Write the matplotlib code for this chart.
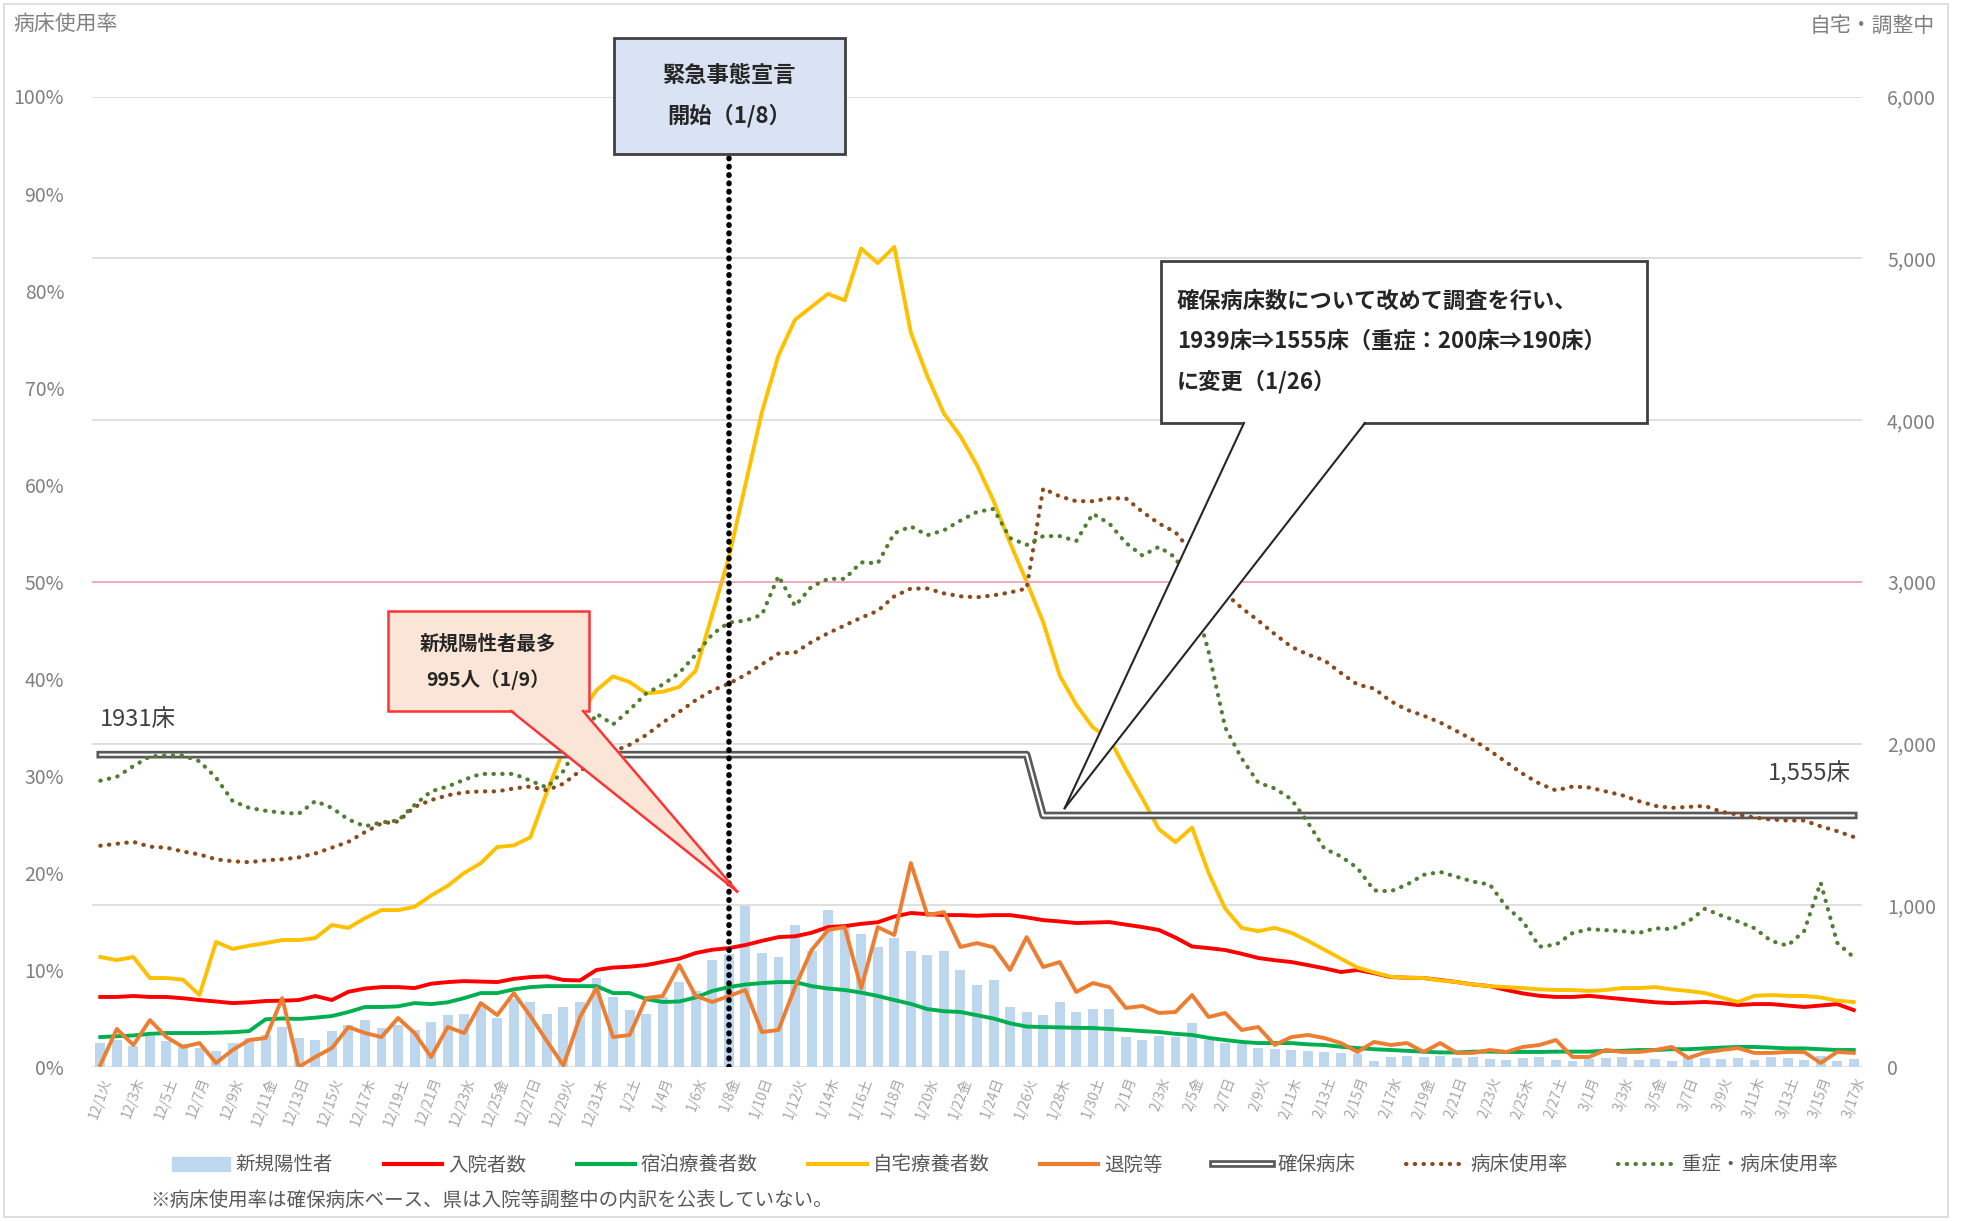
import matplotlib
matplotlib.use('Agg')
import matplotlib.pyplot as plt
import matplotlib.patches as patches
import matplotlib.patheffects as pe
from matplotlib.lines import Line2D
from matplotlib.ticker import FuncFormatter, MultipleLocator
import pandas as pd

plt.rcParams['font.family'] = ['Noto Sans CJK JP', 'DejaVu Sans']

# ---------------- data ----------------
dates = pd.date_range('2020-12-01', '2021-03-17')
weekdays = '月火水木金土日'
day_labels = [f'{d.month}/{d.day}{weekdays[d.weekday()]}' for d in dates]

# 新規陽性者
new_pos = [150, 170, 130, 190, 160, 140, 120, 100, 150, 180,
           200, 250, 180, 170, 220, 260, 290, 240, 260, 230,
           280, 320, 330, 380, 300, 420, 400, 330, 370, 400,
           550, 430, 350, 330, 430, 525, 470, 660, 700, 995,
           705, 680, 880, 720, 970, 880, 820, 740, 800, 720,
           690, 720, 600, 510, 540, 370, 340, 320, 400, 340,
           360, 360, 185, 170, 190, 185, 270, 170, 150, 140,
           120, 110, 105, 100, 90, 85, 80, 40, 60, 70,
           60, 65, 55, 60, 50, 45, 55, 60, 45, 40,
           50, 55, 60, 45, 50, 40, 60, 55, 50, 55,
           45, 60, 55, 45, 65, 40, 50]
# 入院者数
hospitalized = [433, 433, 439, 433, 433, 425, 414, 405, 395, 400,
                408, 410, 414, 439, 414, 465, 485, 494, 494, 488,
                515, 525, 531, 528, 525, 545, 556, 560, 538, 535,
                600, 615, 620, 630, 650, 670, 705, 725, 735, 754,
                780, 803, 808, 830, 865, 871, 885, 895, 930, 952,
                945, 939, 939, 935, 939, 939, 925, 908, 900, 890,
                893, 896, 880, 865, 847, 800, 745, 735, 723, 700,
                674, 660, 649, 630, 610, 587, 600, 580, 556, 552,
                550, 538, 525, 510, 500, 476, 455, 440, 433, 433,
                440, 430, 420, 410, 400, 395, 398, 402, 395, 383,
                389, 389, 380, 371, 380, 389, 352]
# 宿泊療養者数
hotel = [185, 190, 195, 205, 210, 210, 210, 212, 215, 222,
         295, 300, 297, 305, 315, 340, 371, 371, 375, 395,
         389, 400, 426, 457, 457, 480, 494, 500, 500, 500,
         500, 457, 457, 420, 402, 405, 430, 470, 494, 510,
         519, 525, 525, 500, 485, 476, 460, 439, 414, 390,
         358, 345, 340, 320, 300, 270, 250, 247, 245, 242,
         241, 235, 229, 222, 216, 205, 198, 180, 167, 155,
         148, 148, 148, 140, 136, 125, 117, 110, 105, 100,
         95, 90, 90, 95, 95, 93, 93, 93, 95, 95,
         95, 100, 100, 105, 105, 110, 110, 115, 120, 124,
         124, 120, 115, 115, 110, 105, 105]
# 自宅療養者数
home = [680, 661, 680, 550, 550, 540, 445, 773, 730, 750,
        766, 785, 785, 797, 878, 860, 920, 970, 970, 990,
        1060, 1120, 1200, 1260, 1360, 1370, 1420, 1700, 1960, 2180,
        2330, 2415, 2380, 2310, 2320, 2350, 2450, 2800, 3150, 3600,
        4050, 4400, 4620, 4700, 4780, 4740, 5060, 4970, 5070, 4540,
        4270, 4040, 3900, 3720, 3500, 3240, 3000, 2750, 2420, 2240,
        2100, 2030, 1840, 1660, 1470, 1390, 1480, 1200, 980, 860,
        840, 860, 830, 780, 725, 670, 615, 585, 558, 552,
        550, 535, 525, 510, 500, 494, 488, 480, 476, 476,
        470, 476, 488, 488, 494, 480, 470, 457, 430, 402,
        440, 445, 440, 439, 430, 410, 402]
# 退院等
discharged = [12, 235, 136, 290, 185, 124, 148, 25, 105, 167,
              179, 426, 0, 62, 117, 247, 210, 185, 303, 210,
              62, 247, 210, 395, 321, 457, 315, 160, 10, 309,
              488, 185, 198, 426, 439, 630, 439, 402, 439, 476,
              216, 229, 494, 723, 847, 865, 488, 865, 816, 1261,
              939, 958, 742, 766, 740, 600, 803, 618, 649, 464,
              519, 494, 365, 377, 334, 340, 445, 309, 334, 229,
              247, 136, 185, 198, 179, 148, 93, 155, 136, 148,
              93, 148, 87, 87, 105, 93, 124, 136, 167, 62,
              62, 105, 93, 93, 105, 124, 56, 90, 105, 117,
              87, 87, 93, 93, 25, 93, 87]
# 確保病床
beds = [1931] * 57 + [1555] * 50
# 病床使用率 (%)
bed_rate = [22.8, 23.0, 23.2, 22.7, 22.6, 22.2, 21.9, 21.4, 21.2, 21.1,
            21.3, 21.4, 21.6, 22.0, 22.6, 23.2, 24.2, 25.1, 25.3, 26.8,
            27.5, 28.0, 28.3, 28.4, 28.4, 28.7, 28.9, 28.5, 29.2, 30.5,
            31.6, 32.5, 33.2, 34.2, 35.5, 36.6, 37.8, 38.8, 39.5, 40.4,
            41.5, 42.6, 42.7, 43.8, 44.7, 45.5, 46.3, 47.0, 48.5, 49.3,
            49.3, 48.8, 48.5, 48.4, 48.6, 48.9, 49.3, 59.6, 58.8, 58.3,
            58.3, 58.6, 58.6, 57.2, 56.0, 55.1, 53.0, 51.0, 48.8, 47.3,
            46.0, 44.6, 43.3, 42.5, 41.9, 40.6, 39.4, 39.0, 37.7, 36.8,
            36.2, 35.5, 34.6, 33.7, 32.6, 31.4, 30.2, 29.2, 28.5, 28.9,
            28.8, 28.4, 28.0, 27.4, 26.9, 26.7, 26.8, 26.9, 26.3, 26.0,
            25.7, 25.5, 25.4, 25.4, 24.8, 24.3, 23.7]
# 重症・病床使用率 (%)
severe_rate = [29.5, 29.9, 31.0, 32.0, 32.1, 32.1, 31.5, 29.8, 27.4, 26.7,
               26.4, 26.2, 26.1, 27.4, 26.7, 25.5, 24.8, 25.2, 25.4, 27.0,
               28.4, 28.9, 29.6, 30.2, 30.2, 30.2, 29.5, 28.8, 30.5, 33.5,
               36.4, 35.3, 36.8, 38.5, 39.4, 40.6, 42.5, 44.6, 45.8, 46.0,
               46.6, 50.6, 47.5, 49.5, 50.3, 50.3, 52.0, 51.9, 55.0, 55.7,
               54.8, 55.3, 56.3, 57.2, 57.5, 54.5, 53.8, 54.7, 54.7, 54.2,
               57.0, 56.0, 54.0, 52.7, 53.6, 52.5, 49.0, 42.8, 35.0, 31.8,
               29.3, 28.7, 27.6, 25.2, 22.5, 21.7, 20.5, 18.2, 18.1, 18.8,
               19.8, 20.1, 19.6, 19.1, 18.8, 16.5, 15.0, 12.4, 12.6, 13.8,
               14.2, 14.1, 14.0, 13.8, 14.3, 14.2, 15.0, 16.3, 15.6, 15.0,
               14.3, 13.0, 12.5, 14.0, 19.0, 12.8, 11.3]

emergency_idx = 38   # 1/8
peak_idx = 39        # 1/9
change_idx = 57

# ---------------- layout helpers (figure pixels) ----------------
W, H = 1964, 1221


def fx(x):
    return x / W


def fy(y):
    return 1 - y / H


GRAY = '#808080'
DARK = '#404040'

fig = plt.figure(figsize=(W / 100, H / 100), dpi=100)
fig.add_artist(patches.Rectangle((0.002, 0.003), 0.99, 0.994, transform=fig.transFigure,
                                 fill=False, edgecolor='#d9d9d9', lw=1.2))

ax = fig.add_axes([fx(92), fy(1067), (1862 - 92) / W, (1067 - 96.5) / H])
x = list(range(len(dates)))

bed_line_fx = [pe.Stroke(linewidth=5.5, foreground='#595959'), pe.Normal()]

ax.bar(x, new_pos, width=0.6, color='#bdd7ee', zorder=2)
ax.plot(x, hospitalized, color='#ff0000', lw=2.8, zorder=3)
ax.plot(x, hotel, color='#00b050', lw=2.8, zorder=3)
ax.plot(x, home, color='#ffc000', lw=2.8, zorder=3)
ax.plot(x, discharged, color='#ed7d31', lw=2.8, zorder=3)
ax.plot(x, beds, color='white', lw=1.6, zorder=3, path_effects=bed_line_fx)

ax.set_xlim(-0.5, len(dates) - 0.5)
ax.set_ylim(0, 6000)
ax.set_xticks(x[::2])
ax.set_xticklabels(day_labels[::2], rotation=70, ha='right', rotation_mode='anchor',
                   fontsize=10, color='#a6a6a6')
ax.tick_params(axis='x', length=0, pad=6)
ax.grid(axis='y', color='#d9d9d9', lw=1.2)
ax.set_axisbelow(True)
for s in ax.spines.values():
    s.set_visible(False)

ax2 = ax.twinx()
# counts on the right, percentages on the left
ax.yaxis.tick_right()
ax.yaxis.set_major_locator(MultipleLocator(1000))
ax.yaxis.set_major_formatter(FuncFormatter(lambda v, p: f'{int(v):,}'))
ax.tick_params(axis='y', length=0, pad=18, labelsize=14, labelcolor=GRAY)

ax2.set_ylim(0, 1)
ax2.yaxis.tick_left()
ax2.yaxis.set_major_locator(MultipleLocator(0.1))
ax2.yaxis.set_major_formatter(FuncFormatter(lambda v, p: f'{v * 100:.0f}%'))
ax2.tick_params(axis='y', length=0, pad=20, labelsize=14, labelcolor=GRAY)
for s in ax2.spines.values():
    s.set_visible(False)

dots = (0, (0.1, 2.0))
ax2.axhline(0.5, color='#f4a6b8', lw=1.3, zorder=1)
ax2.plot(x, [v / 100 for v in bed_rate], color='#8c4a1c', lw=3, linestyle=dots,
         dash_capstyle='round')
ax2.plot(x, [v / 100 for v in severe_rate], color='#507e32', lw=3, linestyle=dots,
         dash_capstyle='round')
ax2.axvline(emergency_idx, ymin=0, ymax=(1067 - 154) / (1067 - 96.5), color='black',
            lw=4, linestyle=(0, (0.1, 1.4)), dash_capstyle='round', zorder=5)

# axis titles
fig.text(fx(13), fy(24), '病床使用率', fontsize=15, color=GRAY, va='center')
fig.text(fx(1935), fy(26), '自宅・調整中', fontsize=15, color=GRAY, va='center', ha='right')

# bed labels
fig.text(fx(100), fy(720), '1931床', fontsize=17, color=DARK, va='center')
fig.text(fx(1851), fy(773), '1,555床', fontsize=17, color=DARK, va='center', ha='right')

to_fig = fig.transFigure.inverted()

# 緊急事態宣言 box
fig.add_artist(patches.Rectangle((fx(614), fy(154)), fx(845) - fx(614), fy(38) - fy(154),
                                 transform=fig.transFigure, facecolor='#dae3f3',
                                 edgecolor='#404040', lw=2, zorder=4))
fig.text(fx(729), fy(75), '緊急事態宣言', fontsize=16, fontweight='bold', color='#262626',
         ha='center', va='center', zorder=5)
fig.text(fx(729), fy(116), '開始（1/8）', fontsize=16, fontweight='bold', color='#262626',
         ha='center', va='center', zorder=5)

# 新規陽性者最多 callout
tip2 = to_fig.transform(ax.transData.transform((peak_idx - 0.5, new_pos[peak_idx] + 90)))
fig.add_artist(patches.Rectangle((fx(388), fy(711)), fx(589) - fx(388), fy(611) - fy(711),
                                 transform=fig.transFigure, facecolor='#fbe5d6',
                                 edgecolor='#ff3333', lw=1.8, zorder=4))
wedge2 = [(fx(511), fy(709)), (fx(583), fy(709)), tuple(tip2)]
fig.add_artist(patches.Polygon(wedge2, closed=True, transform=fig.transFigure,
                               facecolor='#fbe5d6', edgecolor='none', zorder=4.5))
for base in wedge2[:2]:
    fig.add_artist(Line2D([base[0], tip2[0]], [fy(711), tip2[1]], transform=fig.transFigure,
                          color='#ff3333', lw=1.8, zorder=4.6))
fig.text(fx(488), fy(644), '新規陽性者最多', fontsize=14, fontweight='bold', color='#262626',
         ha='center', va='center', zorder=5)
fig.text(fx(488), fy(680), '995人（1/9）', fontsize=14, fontweight='bold', color='#262626',
         ha='center', va='center', zorder=5)

# 確保病床数 callout
tip3 = to_fig.transform(ax.transData.transform((change_idx + 1.3, beds[-1] + 45)))
fig.add_artist(patches.Rectangle((fx(1161), fy(423)), fx(1647) - fx(1161), fy(261) - fy(423),
                                 transform=fig.transFigure, facecolor='white',
                                 edgecolor='#404040', lw=2, zorder=4))
wedge3 = [(fx(1244), fy(421)), (fx(1365), fy(421)), tuple(tip3)]
fig.add_artist(patches.Polygon(wedge3, closed=True, transform=fig.transFigure,
                               facecolor='white', edgecolor='none', zorder=4.5))
for base in wedge3[:2]:
    fig.add_artist(Line2D([base[0], tip3[0]], [fy(423), tip3[1]], transform=fig.transFigure,
                          color='#262626', lw=1.5, zorder=4.6))
box3_lines = ['確保病床数について改めて調査を行い、',
              '1939床⇒1555床（重症：200床⇒190床）',
              'に変更（1/26）']
for line, yy in zip(box3_lines, [301, 341, 382]):
    fig.text(fx(1177), fy(yy), line, fontsize=16, fontweight='bold', color='#262626',
             ha='left', va='center', zorder=5)

# legend
handles = [patches.Patch(color='#bdd7ee'),
           Line2D([], [], color='#ff0000', lw=3),
           Line2D([], [], color='#00b050', lw=3),
           Line2D([], [], color='#ffc000', lw=3),
           Line2D([], [], color='#ed7d31', lw=3),
           Line2D([], [], color='white', lw=1.6, path_effects=bed_line_fx),
           Line2D([], [], color='#8c4a1c', lw=3, linestyle=dots, dash_capstyle='round'),
           Line2D([], [], color='#507e32', lw=3, linestyle=dots, dash_capstyle='round')]
labels = ['新規陽性者', '入院者数', '宿泊療養者数', '自宅療養者数', '退院等', '確保病床',
          '病床使用率', '重症・病床使用率']
fig.legend(handles, labels, loc='center', bbox_to_anchor=(fx(1005), fy(1165)), ncol=8,
           frameon=False, fontsize=14, handlelength=3.0, columnspacing=2.6,
           handletextpad=0.3, labelcolor='#595959')

fig.text(fx(150), fy(1200), '※病床使用率は確保病床ベース、県は入院等調整中の内訳を公表していない。',
         fontsize=14, color='#595959', va='center')

fig.savefig('out.png', dpi=100)
